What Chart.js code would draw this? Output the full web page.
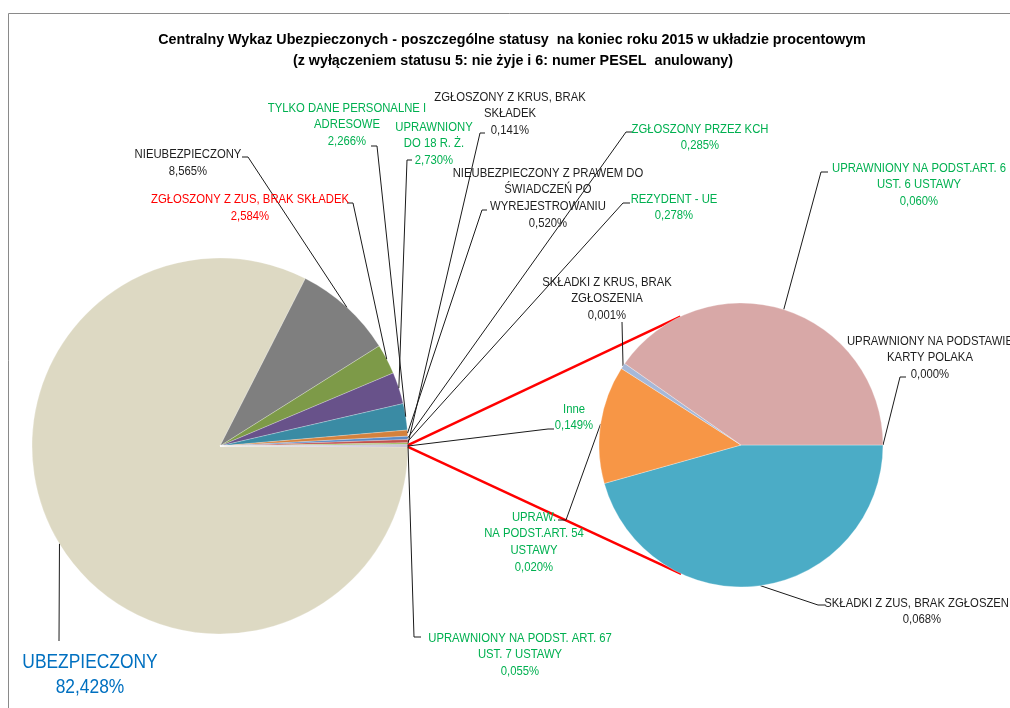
<!DOCTYPE html>
<html>
<head>
<meta charset="utf-8">
<script src="https://cdn.jsdelivr.net/npm/chart.js@4.4.1/dist/chart.umd.min.js"></script>
<style>
    html, body { margin: 0; padding: 0; background: #fff; }
    #wrap { position: relative; width: 1010px; height: 708px; overflow: hidden; }
    #mainChart { position: absolute; left: 0; top: 0; }
    #subChart { position: absolute; left: 599px; top: 303px; }
</style>
</head>
<body>
<div id="wrap">
    <canvas id="mainChart" width="1010" height="708"></canvas>
    <canvas id="subChart" width="284" height="284"></canvas>
</div>
<script>
// dane - pierwszy wykres (procent ogółu)
const mainLabels = [
    ['UBEZPIECZONY'],
    ['NIEUBEZPIECZONY'],
    ['ZGŁOSZONY Z ZUS, BRAK SKŁADEK'],
    ['UPRAWNIONY', 'DO 18 R. Ż.'],
    ['TYLKO DANE PERSONALNE I', 'ADRESOWE'],
    ['NIEUBEZPIECZONY Z PRAWEM DO', 'ŚWIADCZEŃ PO', 'WYREJESTROWANIU'],
    ['ZGŁOSZONY PRZEZ KCH'],
    ['REZYDENT - UE'],
    ['ZGŁOSZONY Z KRUS, BRAK', 'SKŁADEK'],
    ['UPRAWNIONY NA PODST. ART. 67', 'UST. 7 USTAWY'],
    ['Inne']
];
const mainValues = [82.428, 8.565, 2.584, 2.730, 2.266, 0.520, 0.285, 0.278, 0.141, 0.055, 0.149];

// dane - drugi wykres (rozbicie "Inne")
const subLabels = [
    ['SKŁADKI Z ZUS, BRAK ZGŁOSZENIA'],
    ['UPRAW.', 'NA PODST.ART. 54', 'USTAWY'],
    ['SKŁADKI Z KRUS, BRAK', 'ZGŁOSZENIA'],
    ['UPRAWNIONY NA PODST.ART. 6', 'UST. 6 USTAWY'],
    ['UPRAWNIONY NA PODSTAWIE', 'KARTY POLAKA']
];
const subValues = [0.068, 0.020, 0.001, 0.060, 0.000];

const titleLines = [
    'Centralny Wykaz Ubezpieczonych - poszczególne statusy  na koniec roku 2015 w układzie procentowym',
    '(z wyłączeniem statusu 5: nie żyje i 6: numer PESEL  anulowany)'
];

// kolory
const mainColors = ['#DDD9C3', '#7F7F7F', '#7D9A48', '#68528A', '#3A8BA4', '#D4813D',
    '#5A8AC6', '#C0504D', '#9BBB59', '#8064A2', '#BFB8D0'];
const subColors = ['#4BACC6', '#F79646', '#A6B8D8', '#D8A8A7', '#C0504D'];

const DARK = '#1E1E1E', GREEN = '#00B050', RED = '#FF0000', BLUE = '#0070C0';
const mainTextColors = [BLUE, DARK, RED, GREEN, GREEN, DARK, GREEN, GREEN, DARK, GREEN, GREEN];
const subTextColors = [DARK, GREEN, DARK, GREEN, DARK];

// polozenie etykiet: [srodek x, y pierwszej linii, start linii x, y, kolanko x, y]
const mainLabelPos = [
    [90, 662, 59, 641, null, null],
    [188, 154.5, 242, 157, 248, 157],
    [250, 199.5, 347, 203, 353, 203],
    [434, 127, 412, 160, 407, 160],
    [347, 108, 371, 146, 377, 146],
    [548, 173, 487, 210, 482, 210],
    [700, 129, 632, 132, 626, 132],
    [674, 199, 630, 203, 623, 203],
    [510, 97, 485, 133, 480, 133],
    [520, 638, 421, 637, 414, 637],
    [574, 409, 554, 429, 548, 429]
];
const subLabelPos = [
    [922, 603, 825, 605, 818, 605],
    [534, 517, 558, 520, 566, 520],
    [607, 282, 622, 322, null, null],
    [919, 168, 828, 172, 821, 172],
    [930, 341, 906, 377, 900, 377]
];

const SUB_LEFT = 599, SUB_TOP = 303;
const FONT_FAMILY = "'Liberation Sans', Arial, sans-serif";
const LABEL_FONT = '13px ' + FONT_FAMILY;
const BIG_FONT = '20px ' + FONT_FAMILY;
const TITLE_FONT = 'bold 14.3px ' + FONT_FAMILY;
const TEXT_SCALE_X = 0.87; // zwezenie zamiast Calibri

const fmt = v => v.toFixed(3).replace('.', ',') + '%';

const midPoint = (arc, dx, dy) => {
    const { x, y, startAngle, endAngle, outerRadius } = arc.getProps(['x', 'y', 'startAngle', 'endAngle', 'outerRadius'], true);
    const a = (startAngle + endAngle) / 2;
    return [x + dx + Math.cos(a) * outerRadius, y + dy + Math.sin(a) * outerRadius];
};

const drawLabel = (ctx, lines, pos, color, big) => {
    const [cx, cy] = pos;
    const lh = big ? 25 : 16.7;
    ctx.font = big ? BIG_FONT : LABEL_FONT;
    ctx.fillStyle = color;
    ctx.textAlign = 'center';
    ctx.textBaseline = 'middle';
    lines.forEach((t, i) => {
        ctx.save();
        ctx.translate(cx, cy + i * lh);
        ctx.scale(TEXT_SCALE_X, 1);
        ctx.fillText(t, 0, 0);
        ctx.restore();
    });
};

const drawLeader = (ctx, pos, target) => {
    const [, , ax, ay, ex, ey] = pos;
    ctx.beginPath();
    ctx.moveTo(ax, ay);
    if (ex !== null) ctx.lineTo(ex, ey);
    ctx.lineTo(target[0], target[1]);
    ctx.strokeStyle = '#1A1A1A';
    ctx.lineWidth = 1;
    ctx.stroke();
};

const subChart = new Chart(document.querySelector('#subChart'), {
    type: 'pie',
    data: {
        labels: subLabels.map(l => l.join(' ')),
        datasets: [{
            data: subValues,
            backgroundColor: subColors,
            borderColor: 'rgba(255,255,255,0.6)',
            borderWidth: 0.5,
            hoverOffset: 0
        }]
    },
    options: {
        responsive: false,
        animation: false,
        events: [],
        radius: 142,
        rotation: 90,
        layout: { padding: 0 },
        plugins: { legend: { display: false }, tooltip: { enabled: false } }
    }
});

const overlay = {
    id: 'overlay',
    afterDraw(chart) {
        const ctx = chart.ctx;
        ctx.save();

        // ramka
        ctx.strokeStyle = '#8A8A8A';
        ctx.lineWidth = 1;
        ctx.beginPath();
        ctx.moveTo(8.5, 708);
        ctx.lineTo(8.5, 13.5);
        ctx.lineTo(1010, 13.5);
        ctx.stroke();

        // tytul
        ctx.font = TITLE_FONT;
        ctx.fillStyle = '#000';
        ctx.textAlign = 'center';
        ctx.textBaseline = 'middle';
        ctx.fillText(titleLines[0], 512, 40);
        ctx.fillText(titleLines[1], 513, 61);

        const mainArcs = chart.getDatasetMeta(0).data;
        const subArcs = subChart.getDatasetMeta(0).data;

        // linie serii (styczne do drugiego kola)
        const inne = mainArcs[mainArcs.length - 1].getProps(['x', 'y', 'startAngle', 'endAngle', 'outerRadius'], true);
        const c0 = subArcs[0].getProps(['x', 'y', 'outerRadius'], true);
        const cx = c0.x + SUB_LEFT, cy = c0.y + SUB_TOP, r = c0.outerRadius;
        ctx.strokeStyle = RED;
        ctx.lineWidth = 2.5;
        [[inne.startAngle, 1], [inne.endAngle, -1]].forEach(([ang, sgn]) => {
            const px = inne.x + Math.cos(ang) * inne.outerRadius;
            const py = inne.y + Math.sin(ang) * inne.outerRadius;
            const d = Math.hypot(px - cx, py - cy);
            const phi = Math.atan2(py - cy, px - cx);
            const th = Math.acos(r / d);
            const t = phi + sgn * th;
            ctx.beginPath();
            ctx.moveTo(px, py);
            ctx.lineTo(cx + Math.cos(t) * r, cy + Math.sin(t) * r);
            ctx.stroke();
        });

        // linie odniesienia i etykiety
        mainArcs.forEach((arc, i) => {
            drawLeader(ctx, mainLabelPos[i], midPoint(arc, 0, 0));
        });
        subArcs.forEach((arc, i) => {
            drawLeader(ctx, subLabelPos[i], midPoint(arc, SUB_LEFT, SUB_TOP));
        });
        mainLabels.forEach((lines, i) => {
            drawLabel(ctx, [...lines, fmt(mainValues[i])], mainLabelPos[i], mainTextColors[i], i === 0);
        });
        subLabels.forEach((lines, i) => {
            drawLabel(ctx, [...lines, fmt(subValues[i])], subLabelPos[i], subTextColors[i], false);
        });
        ctx.restore();
    }
};

const innePart = mainValues[mainValues.length - 1] / mainValues.reduce((a, b) => a + b, 0);

new Chart(document.querySelector('#mainChart'), {
    type: 'pie',
    data: {
        labels: mainLabels.map(l => l.join(' ')),
        datasets: [{
            data: mainValues,
            backgroundColor: mainColors,
            borderColor: 'rgba(255,255,255,0.5)',
            borderWidth: 0.5,
            hoverOffset: 0
        }]
    },
    options: {
        responsive: false,
        animation: false,
        events: [],
        radius: 188,
        rotation: 90 + innePart * 180,
        layout: { padding: { left: 32, top: 258, right: 602, bottom: 74 } },
        plugins: { legend: { display: false }, tooltip: { enabled: false } }
    },
    plugins: [overlay]
});
</script>
</body>
</html>
